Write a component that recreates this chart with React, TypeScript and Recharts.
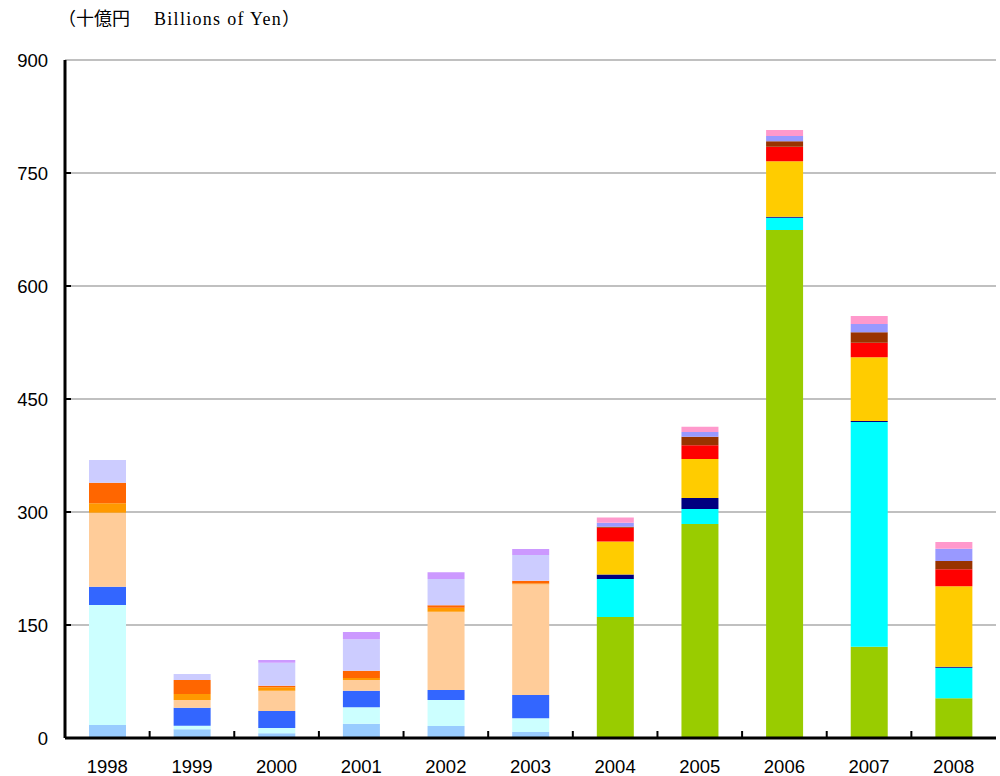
import { BarChart, Bar, XAxis, YAxis, CartesianGrid } from "recharts";

const years = ["1998", "1999", "2000", "2001", "2002", "2003", "2004", "2005", "2006", "2007", "2008"];
const yTicks = [0, 150, 300, 450, 600, 750, 900];

// 1998-2003 series (bottom to top)
const lightBlue = [17.3, 11.5, 6.2, 19, 15.9, 8, 0, 0, 0, 0, 0];
const lightCyan = [159.3, 4.8, 7, 21.8, 34.5, 18.2, 0, 0, 0, 0, 0];
const blue = [24.3, 23.9, 22.6, 22, 13.3, 31, 0, 0, 0, 0, 0];
const peach = [98.2, 10.2, 27, 14.2, 104, 147, 0, 0, 0, 0, 0];
const orange = [12.5, 8, 4.5, 2.7, 5.3, 1, 0, 0, 0, 0, 0];
const darkOrange = [27.3, 18.6, 2.1, 9.7, 3.2, 3.5, 0, 0, 0, 0, 0];
const lavender = [30.1, 8, 30.5, 41.7, 34.9, 34.1, 0, 0, 0, 0, 0];
const purple = [0, 0, 3.6, 9.7, 8.9, 8, 0, 0, 0, 0, 0];

// 2004-2008 series (bottom to top)
const green = [0, 0, 0, 0, 0, 0, 160.6, 284, 674.4, 121.2, 52.7];
const cyan = [0, 0, 0, 0, 0, 0, 50.4, 19.9, 16.3, 298.3, 40.6];
const navy = [0, 0, 0, 0, 0, 0, 6.2, 14.6, 1.3, 1.3, 1.3];
const gold = [0, 0, 0, 0, 0, 0, 43.8, 51.8, 73.5, 84.6, 106.7];
const red = [0, 0, 0, 0, 0, 0, 18, 18.2, 19.4, 19.4, 22.6];
const brown = [0, 0, 0, 0, 0, 0, 1.3, 11.4, 7.2, 13.8, 11];
const periwinkle = [0, 0, 0, 0, 0, 0, 5.3, 6.2, 7, 11, 16.3];
const pink = [0, 0, 0, 0, 0, 0, 7.2, 7, 8, 10.6, 8.9];

const series = [
  { key: "lightBlue", values: lightBlue, color: "#99CCFF" },
  { key: "lightCyan", values: lightCyan, color: "#CCFFFF" },
  { key: "blue", values: blue, color: "#3366FF" },
  { key: "peach", values: peach, color: "#FFCC99" },
  { key: "orange", values: orange, color: "#FF9900" },
  { key: "darkOrange", values: darkOrange, color: "#FF6600" },
  { key: "lavender", values: lavender, color: "#CCCCFF" },
  { key: "purple", values: purple, color: "#CC99FF" },
  { key: "green", values: green, color: "#99CC00" },
  { key: "cyan", values: cyan, color: "#00FFFF" },
  { key: "navy", values: navy, color: "#000080" },
  { key: "gold", values: gold, color: "#FFCC00" },
  { key: "red", values: red, color: "#FF0000" },
  { key: "brown", values: brown, color: "#993300" },
  { key: "periwinkle", values: periwinkle, color: "#9999FF" },
  { key: "pink", values: pink, color: "#FF99CC" },
];

const data = years.map((year, i) => {
  const row: Record<string, any> = { year };
  series.forEach((s) => (row[s.key] = s.values[i]));
  return row;
});

const W = 1000;
const H = 776;
const PLOT_LEFT = 65;
const PLOT_RIGHT = 996;
const PLOT_TOP = 60;
const PLOT_BOTTOM = 738;
const BAND = (PLOT_RIGHT - PLOT_LEFT) / years.length;
const font = "'Liberation Sans', Arial, sans-serif";

const XTick = (props: any) => {
  const { x, payload, index } = props;
  return (
    <g>
      {index > 0 && (
        <line x1={x - BAND / 2} x2={x - BAND / 2} y1={PLOT_BOTTOM} y2={PLOT_BOTTOM - 7} stroke="#000" strokeWidth={2} />
      )}
      <text x={x} y={PLOT_BOTTOM + 35} textAnchor="middle" fontSize={18.5} fontFamily={font} fill="#000">
        {payload.value}
      </text>
    </g>
  );
};

const YTick = (props: any) => {
  const { y, payload } = props;
  return (
    <g>
      {payload.value > 0 && payload.value < 900 && (
        <line x1={PLOT_LEFT} x2={PLOT_LEFT + 6} y1={y} y2={y} stroke="#000" strokeWidth={2} />
      )}
      <text x={PLOT_LEFT - 17} y={y + 6.5} textAnchor="end" fontSize={18.5} fontFamily={font} fill="#000">
        {payload.value}
      </text>
    </g>
  );
};

export default function App() {
  return (
    <div style={{ position: "absolute", left: 0, top: 0, width: W, height: H, background: "#fff" }}>
      <div
        style={{
          position: "absolute",
          left: 58,
          top: 4,
          fontSize: 18,
          lineHeight: "26px",
          fontFamily: "'Liberation Serif', 'Times New Roman', serif",
          whiteSpace: "pre",
          color: "#000",
        }}
      >
        <span style={{ fontFamily: "'Noto Sans CJK JP', sans-serif" }}>（十億円</span>
        <span style={{ display: "inline-block", width: 24 }} />
        <span style={{ letterSpacing: "1.3px" }}>Billions of Yen</span>
        <span style={{ fontFamily: "'Noto Sans CJK JP', sans-serif" }}>）</span>
      </div>
      <BarChart
        width={W}
        height={H}
        data={data}
        margin={{ top: PLOT_TOP, right: W - PLOT_RIGHT, bottom: 0, left: 5 }}
        barSize={37}
      >
        <CartesianGrid vertical={false} stroke="#C0C0C0" strokeWidth={2} />
        <XAxis
          dataKey="year"
          height={H - PLOT_BOTTOM}
          tick={<XTick />}
          tickLine={false}
          axisLine={{ stroke: "#000", strokeWidth: 3 }}
          interval={0}
        />
        <XAxis
          xAxisId="top"
          orientation="top"
          dataKey="year"
          height={0}
          tick={false}
          tickLine={false}
          axisLine={{ stroke: "#000", strokeWidth: 3 }}
        />
        <YAxis
          width={PLOT_LEFT - 5}
          domain={[0, 900]}
          ticks={yTicks}
          tick={<YTick />}
          tickLine={false}
          axisLine={{ stroke: "#000", strokeWidth: 3 }}
          allowDataOverflow
        />
        <YAxis
          yAxisId="right"
          orientation="right"
          width={0}
          domain={[0, 900]}
          tick={false}
          tickLine={false}
          axisLine={{ stroke: "#000", strokeWidth: 3 }}
        />
        {series.map((s) => (
          <Bar key={s.key} dataKey={s.key} stackId="a" fill={s.color} isAnimationActive={false} />
        ))}
      </BarChart>
    </div>
  );
}
